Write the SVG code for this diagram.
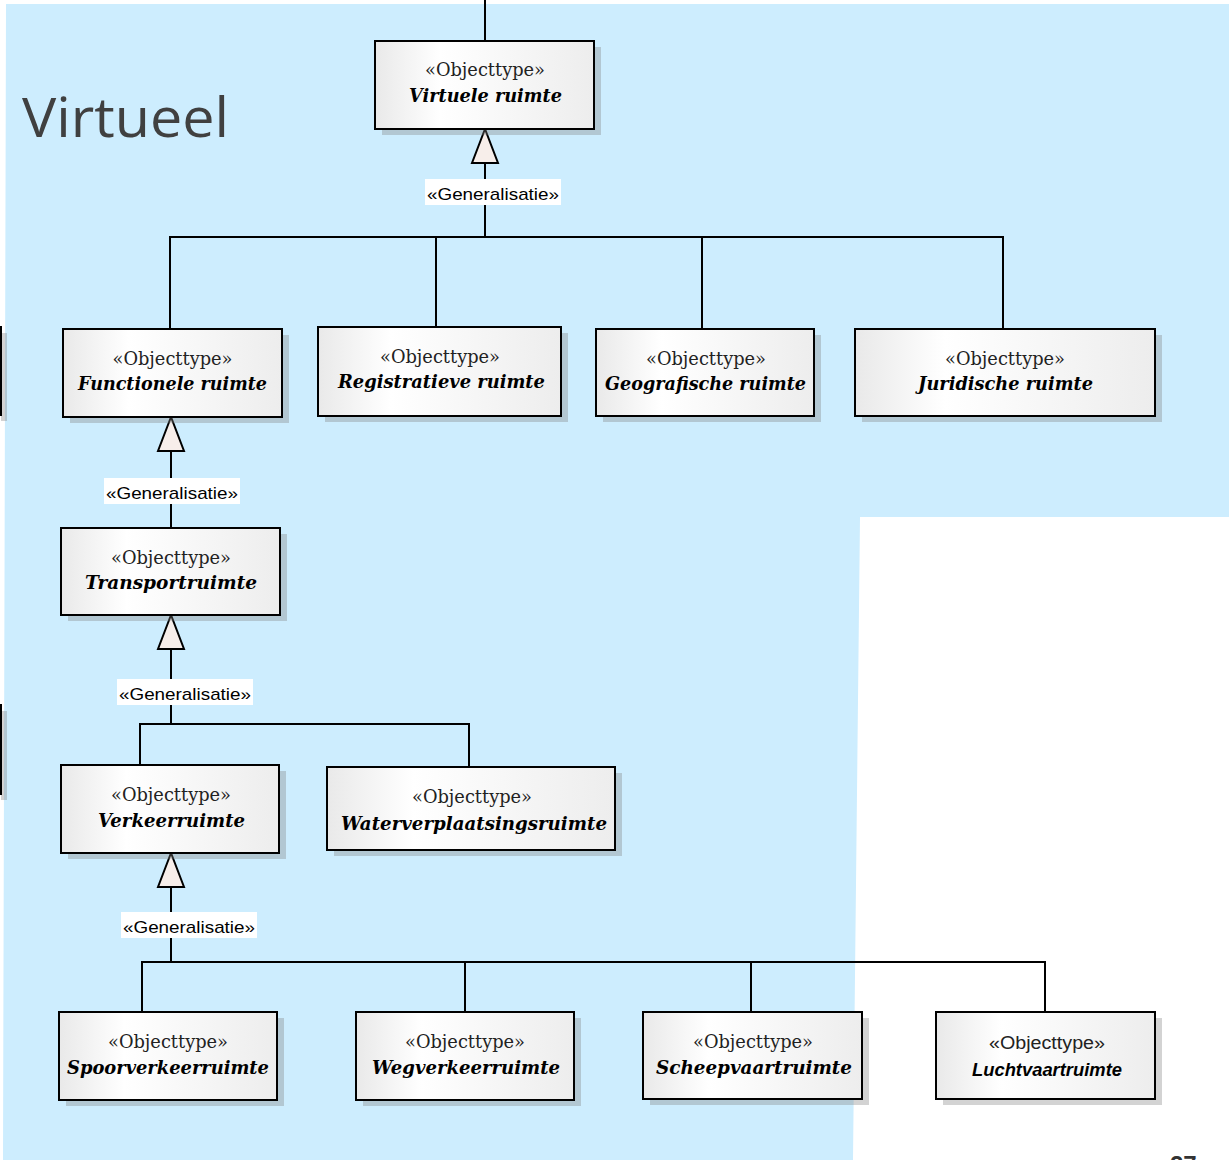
<svg xmlns="http://www.w3.org/2000/svg" width="1229" height="1160" viewBox="0 0 1229 1160">
<defs>
<linearGradient id="boxfill" x1="0" y1="0" x2="1" y2="0">
<stop offset="0" stop-color="#E9E9E9"/>
<stop offset="0.3" stop-color="#FFFFFF"/>
<stop offset="1" stop-color="#EDEDED"/>
</linearGradient>
<style>
.box{fill:url(#boxfill);stroke:#000;stroke-width:2}
.shadow{fill:#808080;fill-opacity:0.35}
.st{font-family:"DejaVu Serif","Liberation Serif",serif;font-size:18px;fill:#222;text-anchor:middle}
.nm{font-family:"DejaVu Serif","Liberation Serif",serif;font-size:19px;font-weight:bold;font-style:italic;fill:#000;text-anchor:middle}
.sts{font-family:"Liberation Sans","Open Sans",sans-serif;font-size:18px;fill:#222;text-anchor:middle}
.nms{font-family:"Liberation Sans","Open Sans",sans-serif;font-size:18px;font-weight:bold;font-style:italic;fill:#000;text-anchor:middle}
.ln{fill:none;stroke:#000;stroke-width:2}
.tri{fill:#F7EEEA;stroke:#000;stroke-width:2;stroke-linejoin:miter}
.lblbg{fill:#FFFFFF}
.lbl{font-family:"Liberation Sans","Open Sans",sans-serif;font-size:17px;fill:#000;text-anchor:middle}
</style>
</defs>
<rect x="0" y="0" width="1229" height="1160" fill="#FFFFFF"/>
<polygon points="6,4 1229,4 1229,517 860,517 853,1160 3,1160" fill="#CDEDFE"/>
<text x="22" y="137" font-family="'Open Sans','Noto Sans',sans-serif" font-size="54" fill="#404040" textLength="207" lengthAdjust="spacingAndGlyphs">Virtueel</text>
<text x="1170" y="1173" font-family="'Liberation Sans',sans-serif" font-size="24" font-weight="bold" fill="#333">27</text>
<g id="edge-fragments">
<rect x="1" y="333" width="6" height="88" class="shadow"/>
<rect x="-100" y="327" width="101" height="88" class="box"/>
<rect x="1" y="711" width="6" height="89" class="shadow"/>
<rect x="-100" y="705" width="101" height="89" class="box"/>
</g>
<g id="connectors">
<path class="ln" d="M485 0 V41"/>
<path class="ln" d="M485 163 V237 M170 329 V237 H1003 V329 M436 237 V327 M702 237 V329"/>
<path class="ln" d="M171 451 V528"/>
<path class="ln" d="M171 649 V724 M140 765 V724 H469 V767"/>
<path class="ln" d="M171 887 V962 M142 1012 V962 H1045 V1012 M465 962 V1012 M751 962 V1012"/>
<polygon class="tri" points="485,129 472,163 498,163"/>
<polygon class="tri" points="171,417 158,451 184,451"/>
<polygon class="tri" points="171,615 158,649 184,649"/>
<polygon class="tri" points="171,853 158,887 184,887"/>
<rect class="lblbg" x="425" y="179" width="136" height="26"/>
<text class="lbl" x="493" y="200" textLength="132" lengthAdjust="spacingAndGlyphs">«Generalisatie»</text>
<rect class="lblbg" x="104" y="478" width="136" height="26"/>
<text class="lbl" x="172" y="499" textLength="132" lengthAdjust="spacingAndGlyphs">«Generalisatie»</text>
<rect class="lblbg" x="117" y="679" width="136" height="26"/>
<text class="lbl" x="185" y="700" textLength="132" lengthAdjust="spacingAndGlyphs">«Generalisatie»</text>
<rect class="lblbg" x="121" y="912" width="136" height="26"/>
<text class="lbl" x="189" y="933" textLength="132" lengthAdjust="spacingAndGlyphs">«Generalisatie»</text>
</g>
<g id="virtuele-ruimte">
<rect class="shadow" x="382" y="47" width="219" height="88"/>
<rect class="box" x="375" y="41" width="219" height="88"/>
<text class="st" x="485" y="76" textLength="120" lengthAdjust="spacingAndGlyphs">«Objecttype»</text>
<text class="nm" x="485.5" y="102" textLength="153" lengthAdjust="spacingAndGlyphs">Virtuele ruimte</text>
</g>
<g id="functionele-ruimte">
<rect class="shadow" x="70" y="335" width="219" height="88"/>
<rect class="box" x="63" y="329" width="219" height="88"/>
<text class="st" x="172.5" y="365" textLength="120" lengthAdjust="spacingAndGlyphs">«Objecttype»</text>
<text class="nm" x="172.5" y="390" textLength="189" lengthAdjust="spacingAndGlyphs">Functionele ruimte</text>
</g>
<g id="registratieve-ruimte">
<rect class="shadow" x="325" y="333" width="243" height="89"/>
<rect class="box" x="318" y="327" width="243" height="89"/>
<text class="st" x="440" y="363" textLength="120" lengthAdjust="spacingAndGlyphs">«Objecttype»</text>
<text class="nm" x="441.5" y="388" textLength="207" lengthAdjust="spacingAndGlyphs">Registratieve ruimte</text>
</g>
<g id="geografische-ruimte">
<rect class="shadow" x="603" y="335" width="218" height="87"/>
<rect class="box" x="596" y="329" width="218" height="87"/>
<text class="st" x="706" y="365" textLength="120" lengthAdjust="spacingAndGlyphs">«Objecttype»</text>
<text class="nm" x="705.5" y="390" textLength="201" lengthAdjust="spacingAndGlyphs">Geografische ruimte</text>
</g>
<g id="juridische-ruimte">
<rect class="shadow" x="862" y="335" width="300" height="87"/>
<rect class="box" x="855" y="329" width="300" height="87"/>
<text class="st" x="1005" y="365" textLength="120" lengthAdjust="spacingAndGlyphs">«Objecttype»</text>
<text class="nm" x="1005.5" y="390" textLength="175" lengthAdjust="spacingAndGlyphs">Juridische ruimte</text>
</g>
<g id="transportruimte">
<rect class="shadow" x="68" y="534" width="219" height="87"/>
<rect class="box" x="61" y="528" width="219" height="87"/>
<text class="st" x="171" y="564" textLength="120" lengthAdjust="spacingAndGlyphs">«Objecttype»</text>
<text class="nm" x="171" y="589" textLength="172" lengthAdjust="spacingAndGlyphs">Transportruimte</text>
</g>
<g id="verkeerruimte">
<rect class="shadow" x="68" y="771" width="218" height="88"/>
<rect class="box" x="61" y="765" width="218" height="88"/>
<text class="st" x="171" y="801" textLength="120" lengthAdjust="spacingAndGlyphs">«Objecttype»</text>
<text class="nm" x="171.5" y="827" textLength="147" lengthAdjust="spacingAndGlyphs">Verkeerruimte</text>
</g>
<g id="waterverplaatsingsruimte">
<rect class="shadow" x="334" y="773" width="288" height="83"/>
<rect class="box" x="327" y="767" width="288" height="83"/>
<text class="st" x="472" y="803" textLength="120" lengthAdjust="spacingAndGlyphs">«Objecttype»</text>
<text class="nm" x="474" y="830" textLength="266" lengthAdjust="spacingAndGlyphs">Waterverplaatsingsruimte</text>
</g>
<g id="spoorverkeerruimte">
<rect class="shadow" x="66" y="1018" width="218" height="88"/>
<rect class="box" x="59" y="1012" width="218" height="88"/>
<text class="st" x="168" y="1048" textLength="120" lengthAdjust="spacingAndGlyphs">«Objecttype»</text>
<text class="nm" x="168" y="1074" textLength="202" lengthAdjust="spacingAndGlyphs">Spoorverkeerruimte</text>
</g>
<g id="wegverkeerruimte">
<rect class="shadow" x="363" y="1018" width="218" height="88"/>
<rect class="box" x="356" y="1012" width="218" height="88"/>
<text class="st" x="465" y="1048" textLength="120" lengthAdjust="spacingAndGlyphs">«Objecttype»</text>
<text class="nm" x="466" y="1074" textLength="188" lengthAdjust="spacingAndGlyphs">Wegverkeerruimte</text>
</g>
<g id="scheepvaartruimte">
<rect class="shadow" x="650" y="1018" width="219" height="87"/>
<rect class="box" x="643" y="1012" width="219" height="87"/>
<text class="st" x="753" y="1048" textLength="120" lengthAdjust="spacingAndGlyphs">«Objecttype»</text>
<text class="nm" x="754" y="1074" textLength="196" lengthAdjust="spacingAndGlyphs">Scheepvaartruimte</text>
</g>
<g id="luchtvaartruimte">
<rect class="shadow" x="943" y="1018" width="219" height="87"/>
<rect class="box" x="936" y="1012" width="219" height="87"/>
<text class="sts" x="1047" y="1049" textLength="116" lengthAdjust="spacingAndGlyphs">«Objecttype»</text>
<text class="nms" x="1047" y="1076" textLength="150" lengthAdjust="spacingAndGlyphs">Luchtvaartruimte</text>
</g>
</svg>
